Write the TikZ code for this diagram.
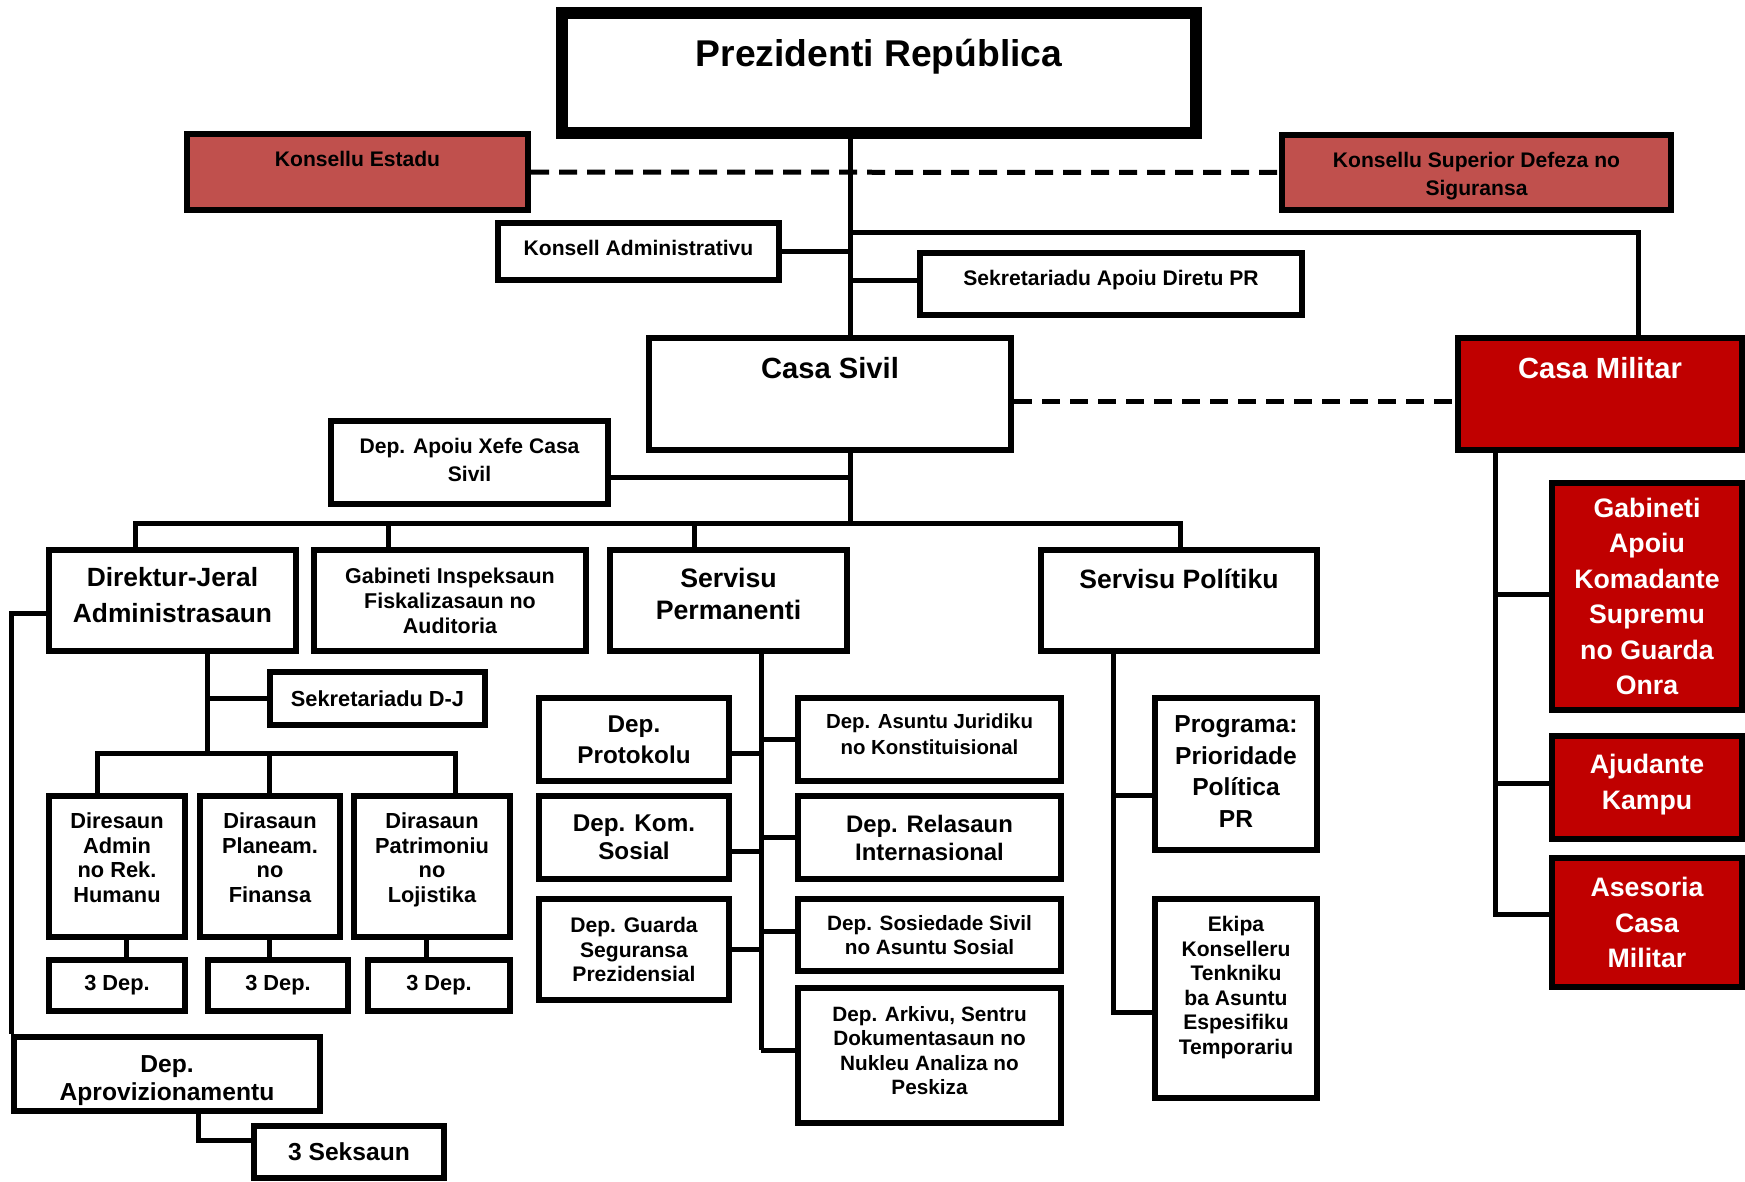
\documentclass[tikz,border=0pt]{standalone}
\usepackage{fontspec}
\setmainfont{Liberation Sans}
\usepackage{tikz}
\definecolor{konsellu}{HTML}{C0504D}
\definecolor{militar}{HTML}{C00000}
\newcommand{\ft}[2]{\bfseries\fontsize{#1}{#2}\selectfont}
\tikzset{
  box/.style={draw, rectangle, line width=0.6mm, align=center, inner sep=0pt, font=\ft{6}{7.2}},
  sz/.style 2 args={minimum width=#1mm, minimum height=#2mm},
  txttop/.style 2 args={text height=#1, text depth=#2},
  council/.style={box, fill=konsellu},
  military/.style={box, fill=militar, text=white, font=\ft{7.6}{10.1}},
  link/.style={line width=0.5mm},
  rel/.style={line width=0.5mm, dash pattern=on 1.8mm off 1mm}
}

\begin{document}
\begin{tikzpicture}[x=0.1mm, y=-0.1mm]
    \useasboundingbox (0,0) rectangle (1745,1181);
    \node[box, sz={63.4}{12.0}, line width=1.2mm, font=\ft{10.6}{12}, txttop={5.33mm}{6.67mm}] (pr) at (879,73) {Prezidenti República};
    \node[council, sz={34.1}{7.6}, txttop={3.25mm}{4.35mm}] (ke) at (357.5,172) {Konsellu Estadu};
    \node[council, sz={38.9}{7.5}, font=\ft{6}{8}, txttop={6.06mm}{1.44mm}] (ks) at (1476.5,172.5) {Konsellu Superior Defeza no\\Siguransa};
    \node[box, sz={28.1}{5.7}, txttop={3.25mm}{2.45mm}] (ka) at (638.5,251.5) {Konsell Administrativu};
    \node[box, sz={38.2}{6.2}, txttop={3.25mm}{2.95mm}] (sa) at (1111,284) {Sekretariadu Apoiu Diretu PR};
    \node[box, sz={36.2}{11.2}, font=\ft{8.3}{10}, txttop={4.04mm}{7.16mm}] (cs) at (830,394) {Casa Sivil};
    \node[military, sz={28.4}{11.2}, font=\ft{8.3}{10}, txttop={4.04mm}{7.16mm}] (cm) at (1600,394) {Casa Militar};
    \node[box, sz={27.7}{8.3}, font=\ft{6}{7.9}, txttop={6.06mm}{2.24mm}] (xa) at (469.5,462.5) {Dep. Apoiu Xefe Casa\\Sivil};

    \node[box, sz={24.7}{10.1}, font=\ft{7.5}{10.2}, txttop={7.24mm}{2.86mm}] (dj) at (172.5,600.5) {Direktur-Jeral\\Administrasaun};
    \node[box, sz={27.2}{10.1}, font=\ft{6.1}{7.1}] (gi) at (450,600.5) {Gabineti Inspeksaun\\Fiskalizasaun no\\Auditoria};
    \node[box, sz={23.7}{10.1}, font=\ft{7.6}{9.1}, txttop={6.9mm}{3.2mm}] (sp) at (728.5,600.5) {Servisu\\Permanenti};
    \node[box, sz={27.6}{10.1}, font=\ft{7.55}{9}, txttop={3.85mm}{6.25mm}] (spo) at (1179,600.5) {Servisu Polítiku};

    \node[box, sz={21.5}{5.3}, font=\ft{6.2}{7}] (sdj) at (377.5,698.5) {Sekretariadu D-J};
    \node[box, sz={13.6}{14.1}, font=\ft{6.2}{7}, txttop={10.62mm}{3.48mm}] (da) at (117,866.5) {Diresaun\\Admin\\no Rek.\\Humanu};
    \node[box, sz={14.0}{14.1}, font=\ft{6.2}{7}, txttop={10.62mm}{3.48mm}] (dp) at (270,866.5) {Dirasaun\\Planeam.\\no\\Finansa};
    \node[box, sz={15.6}{14.1}, font=\ft{6.2}{7}, txttop={10.62mm}{3.48mm}] (dl) at (432,866.5) {Dirasaun\\Patrimoniu\\no\\Lojistika};
    \node[box, sz={13.6}{5.1}, font=\ft{6.2}{7}] (d1) at (117,985.5) {3 Dep.};
    \node[box, sz={14.0}{5.1}, font=\ft{6.2}{7}] (d2) at (278,985.5) {3 Dep.};
    \node[box, sz={14.2}{5.1}, font=\ft{6.2}{7}] (d3) at (439,985.5) {3 Dep.};
    \node[box, sz={30.6}{7.4}, font=\ft{7}{7.9}, txttop={6.3mm}{1.1mm}] (ap) at (167,1074) {Dep.\\Aprovizionamentu};
    \node[box, sz={19.0}{5.2}, font=\ft{7}{8}] (sk) at (349,1152) {3 Seksaun};

    \node[box, sz={19.0}{8.3}, font=\ft{6.9}{8.8}] (pt) at (634,739.5) {Dep.\\Protokolu};
    \node[box, sz={19.0}{8.3}, font=\ft{6.9}{8}] (pk) at (634,837.5) {Dep. Kom.\\Sosial};
    \node[box, sz={19.0}{10.1}, font=\ft{6}{7}] (pg) at (634,949.5) {Dep. Guarda\\Seguransa\\Prezidensial};
    \node[box, sz={26.3}{8.3}, font=\ft{5.8}{7.3}, txttop={5.64mm}{2.66mm}] (pj) at (929.5,739.5) {Dep. Asuntu Juridiku\\no Konstituisional};
    \node[box, sz={26.3}{8.3}, font=\ft{6.8}{8}] (pl) at (929.5,837.5) {Dep. Relasaun\\Internasional};
    \node[box, sz={26.3}{7.2}, font=\ft{5.9}{6.7}] (ps) at (929.5,935) {Dep. Sosiedade Sivil\\no Asuntu Sosial};
    \node[box, sz={26.3}{13.5}, font=\ft{5.9}{6.9}, txttop={10.64mm}{2.86mm}] (pa) at (929.5,1055.5) {Dep. Arkivu, Sentru\\Dokumentasaun no\\Nukleu Analiza no\\Peskiza};

    \node[box, sz={16.2}{15.2}, font=\ft{7}{9}, txttop={12.93mm}{2.27mm}] (pp) at (1236,774) {Programa:\\Prioridade\\Política\\PR};
    \node[box, sz={16.2}{19.9}, font=\ft{6}{7}, txttop={15.55mm}{4.35mm}] (pe) at (1236,998.5) {Ekipa\\Konselleru\\Tenkniku\\ba Asuntu\\Espesifiku\\Temporariu};

    \node[military, sz={19.0}{22.7}] (mg) at (1647,596.5) {Gabineti\\Apoiu\\Komadante\\Supremu\\no Guarda\\Onra};
    \node[military, sz={19.0}{10.3}, txttop={7.3mm}{3.0mm}] (mk) at (1647,787.5) {Ajudante\\Kampu};
    \node[military, sz={19.0}{12.9}] (ma) at (1647,922.5) {Asesoria\\Casa\\Militar};

    \coordinate (tr) at (850,0);
    \coordinate (mil) at (1638,232);
    \coordinate (b1) at (135,523);
    \coordinate (b2) at (388,523);
    \coordinate (b3) at (694,523);
    \coordinate (b4) at (1180,523);
    \coordinate (dv) at (207,753);
    \coordinate (c1) at (97,753);
    \coordinate (c2) at (269,753);
    \coordinate (c3) at (455,753);
    \coordinate (pv) at (761,1050);
    \coordinate (qv) at (1113,0);
    \coordinate (mv) at (1495,0);

    \draw[rel] (ke) -- (ks);
    \draw[rel] ([yshift=-0.7mm]cs.east) -- ([yshift=-0.7mm]cm.west);
    \draw[link] (pr.south -| tr) -- (cs.north -| tr);
    \draw[link] (ka.east) -- (ka.east -| tr);
    \draw[link] ([yshift=0.4mm]sa.west) -- ([yshift=0.4mm]sa.west -| tr);
    \draw[link] (tr |- mil) -| (cm.north -| mil);
    \draw[link] (cs.south -| tr) -- (tr |- b1);
    \draw[link] ([yshift=-1.5mm]xa.east) -- ([yshift=-1.5mm]xa.east -| tr);

    \draw[link] (dj.north -| b1) -- (b1) -- (b4) -- (spo.north -| b4);
    \foreach \b/\n in {b2/gi, b3/sp}
        \draw[link] (\b) -- (\n.north -| \b);

    \draw[link] (dj.south -| dv) -- (dv);
    \draw[link] (sdj.west) -- (sdj.west -| dv);
    \draw[link] (da.north -| c1) -- (c1) -- (c3) -- (dl.north -| c3);
    \draw[link] (c2) -- (dp.north -| c2);
    \foreach \a/\b/\s in {da/d1/0.9, dp/d2/-0.1, dl/d3/-0.6}
        \draw[link] ([xshift=\s mm]\a.south) -- ([xshift=\s mm]\a.south |- \b.north);
    \draw[link] ([yshift=-1.25mm]dj.west) -| (ap.north west);
    \draw[link] ([xshift=3.1mm]ap.south) |- ([yshift=1.2mm]sk.west);

    \draw[link] (sp.south -| pv) -- (pv);
    \foreach \n/\s in {pt/-1.35, pk/-1.35, pg/0}
        \draw[link] ([yshift=\s mm]\n.east) -- ([yshift=\s mm]\n.east -| pv);
    \foreach \n/\s in {pj/0, pl/0, ps/0.4, pa/0.55}
        \draw[link] ([yshift=\s mm]\n.west) -- ([yshift=\s mm]\n.west -| pv);

    \draw[link] (spo.south -| qv) |- ([yshift=-1.35mm]pe.west);
    \draw[link] ([yshift=-2.1mm]pp.west) -- ([yshift=-2.1mm]pp.west -| qv);

    \draw[link] (cm.south -| mv) |- ([yshift=0.85mm]ma.west);
    \foreach \n/\s in {mg/0.25, mk/0.45}
        \draw[link] ([yshift=\s mm]\n.west) -- ([yshift=\s mm]\n.west -| mv);
\end{tikzpicture}
\end{document}
